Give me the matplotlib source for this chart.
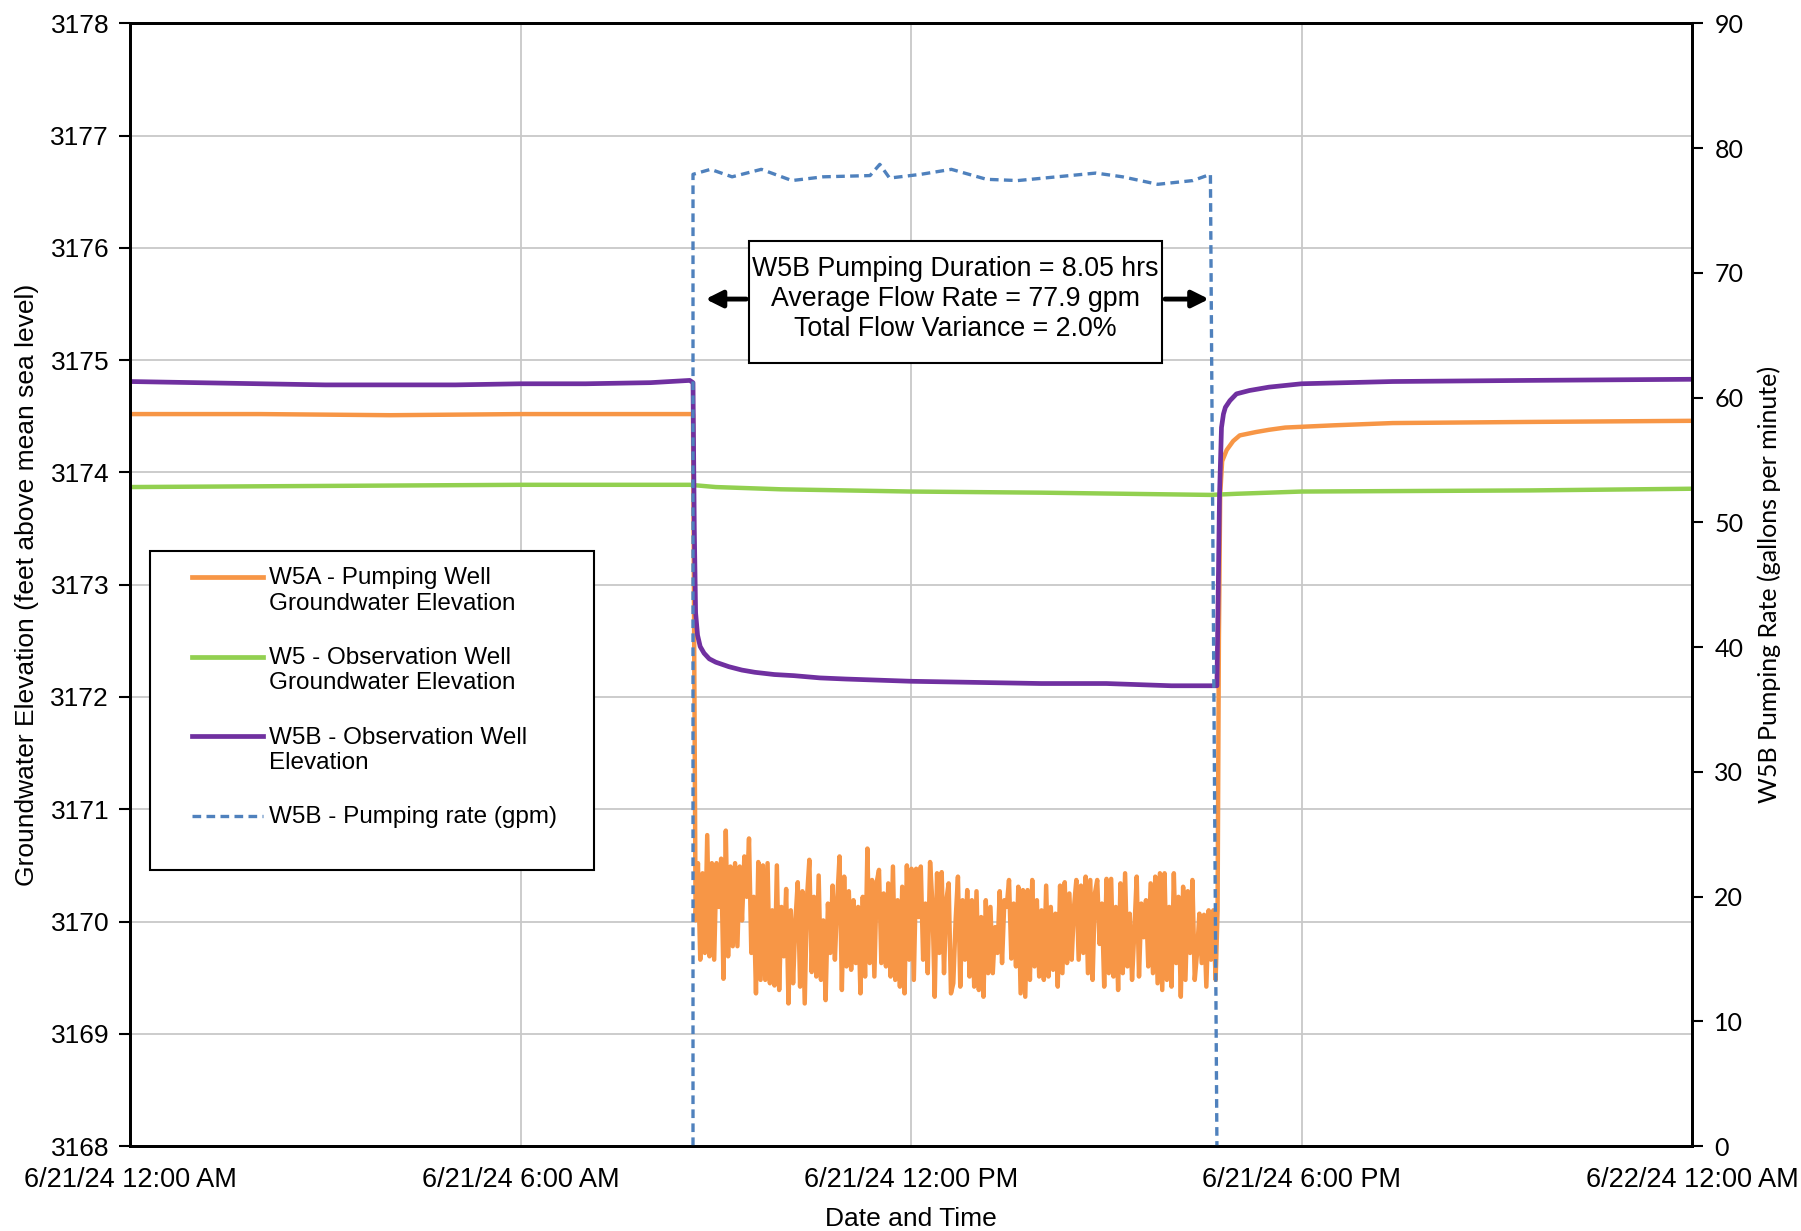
import numpy as np
import matplotlib.pyplot as plt
from matplotlib.lines import Line2D
from matplotlib.patches import Rectangle

# time in hours after 6/21/24 12:00 AM
x_ticks = [0, 6, 12, 18, 24]
x_tick_labels = ['6/21/24 12:00 AM', '6/21/24 6:00 AM', '6/21/24 12:00 PM',
                 '6/21/24 6:00 PM', '6/22/24 12:00 AM']

# W5B observation well elevation
w5b_t = [0, 1, 2, 3, 4, 5, 6, 7, 8, 8.6, 8.65, 8.67, 8.69, 8.72, 8.76, 8.82, 8.9, 9.0,
         9.2, 9.4, 9.6, 9.9, 10.2, 10.6, 11, 12, 13, 14, 15, 16, 16.7, 16.74, 16.77,
         16.80, 16.83, 16.9, 17.0, 17.2, 17.5, 18, 19.4, 21.5, 24]
w5b_elev = [3174.81, 3174.80, 3174.79, 3174.78, 3174.78, 3174.78, 3174.79, 3174.79,
            3174.80, 3174.82, 3174.80, 3173.5, 3172.75, 3172.55, 3172.45, 3172.39,
            3172.34, 3172.31, 3172.27, 3172.24, 3172.22, 3172.20, 3172.19, 3172.17,
            3172.16, 3172.14, 3172.13, 3172.12, 3172.12, 3172.10, 3172.10, 3173.8,
            3174.40, 3174.52, 3174.58, 3174.64, 3174.70, 3174.73, 3174.76, 3174.79,
            3174.81, 3174.82, 3174.83]

# W5 observation well elevation
w5_t = [0, 3, 6, 8.6, 9, 10, 12, 14, 16.6, 17, 18, 21.5, 24]
w5_elev = [3173.87, 3173.88, 3173.89, 3173.89, 3173.87, 3173.85, 3173.83, 3173.82,
           3173.80, 3173.81, 3173.83, 3173.84, 3173.855]

# W5A pumping well elevation (before / during / after pumping)
w5a_pre_t = [0, 2, 4, 6, 8, 8.65]
w5a_pre = [3174.52, 3174.52, 3174.51, 3174.52, 3174.52, 3174.52]
w5a_pumping = [
    3170.01, 3170.52, 3169.66, 3170.43, 3169.72, 3170.77, 3169.69, 3170.52, 3169.66, 3170.52,
    3170.13, 3170.56, 3169.49, 3170.81, 3169.69, 3170.49, 3169.78, 3170.52, 3169.78, 3170.49,
    3170.01, 3170.58, 3170.22, 3170.74, 3169.72, 3170.22, 3169.36, 3170.53, 3169.48, 3170.50,
    3169.48, 3170.52, 3169.45, 3170.10, 3169.43, 3170.50, 3169.39, 3170.13, 3169.69, 3170.29,
    3169.27, 3170.10, 3169.45, 3170.01, 3170.35, 3169.42, 3170.27, 3169.27, 3170.22, 3170.55,
    3169.55, 3170.22, 3169.51, 3170.41, 3169.48, 3170.01, 3169.30, 3170.16, 3169.72, 3170.32,
    3169.66, 3170.19, 3170.58, 3169.39, 3170.40, 3169.60, 3170.27, 3169.57, 3170.19, 3169.63,
    3170.13, 3169.36, 3170.22, 3169.51, 3170.65, 3169.63, 3170.37, 3169.51, 3170.35, 3170.46,
    3169.63, 3170.25, 3169.60, 3170.34, 3169.51, 3170.49, 3169.48, 3170.19, 3169.42, 3170.31,
    3169.36, 3170.50, 3169.66, 3170.47, 3169.48, 3170.47, 3170.04, 3170.49, 3169.66, 3170.16,
    3169.54, 3170.53, 3170.16, 3169.33, 3170.43, 3169.72, 3170.44, 3169.54, 3170.19, 3170.34,
    3169.36,
    3169.45, 3170.01, 3170.40, 3169.42, 3170.19, 3169.66, 3170.28, 3169.51, 3170.19, 3169.42,
    3170.27, 3169.39, 3170.04, 3169.33, 3170.19, 3169.54, 3170.13, 3169.54, 3169.95, 3169.72,
    3170.27, 3169.63, 3170.19, 3170.13, 3170.37, 3169.67, 3170.16, 3169.60, 3170.31, 3169.36,
    3170.28, 3169.33, 3170.28, 3169.48, 3170.37, 3169.60, 3170.19, 3169.51, 3170.10, 3169.48,
    3170.32, 3169.51, 3170.13, 3169.57, 3170.07, 3169.42, 3170.32, 3169.54, 3170.35, 3169.63,
    3170.25, 3169.66, 3170.13, 3170.37, 3169.66, 3170.32, 3169.72, 3170.40, 3169.54, 3170.37,
    3169.48, 3170.25, 3170.37, 3169.80, 3170.16, 3169.42, 3170.38, 3169.54, 3170.38, 3169.51,
    3170.13, 3169.39, 3170.34, 3169.54, 3170.43, 3169.60, 3170.07, 3169.48, 3169.92, 3170.40,
    3169.51, 3170.16, 3169.86, 3170.19, 3169.60, 3170.34, 3169.54, 3170.40, 3169.45, 3170.43,
    3169.39, 3170.43, 3169.48, 3170.13, 3169.42, 3170.43, 3169.63, 3170.22, 3169.33, 3170.31,
    3169.48, 3170.27, 3169.72, 3170.37, 3169.48, 3169.72, 3170.07, 3169.63, 3170.06, 3169.42,
    3170.10, 3169.66, 3170.10, 3169.48]
w5a_post_t = [16.71, 16.73, 16.75, 16.78, 16.85, 16.95, 17.05, 17.3, 17.5, 17.75, 18.5,
              19.4, 21.5, 24]
w5a_post = [3170.1, 3172.5, 3173.8, 3174.1, 3174.2, 3174.28, 3174.33, 3174.36, 3174.38,
            3174.40, 3174.42, 3174.44, 3174.45, 3174.46]

# W5B pumping rate (gpm)
rate_t = [8.65, 8.65, 8.92, 9.25, 9.70, 10.17, 10.65, 11.37, 11.52, 11.67, 12.15, 12.62,
          13.16, 13.64, 14.24, 14.84, 15.25, 15.79, 16.33, 16.60, 16.70]
rate_gpm = [0, 77.9, 78.3, 77.7, 78.3, 77.4, 77.7, 77.8, 78.7, 77.6, 77.9, 78.3, 77.5,
            77.4, 77.7, 78.0, 77.7, 77.1, 77.4, 77.9, 0]

legend_labels = ['W5A - Pumping Well\nGroundwater Elevation',
                 'W5 - Observation Well\nGroundwater Elevation',
                 'W5B - Observation Well\nElevation',
                 'W5B - Pumping rate (gpm)']
note = 'W5B Pumping Duration = 8.05 hrs\nAverage Flow Rate = 77.9 gpm\nTotal Flow Variance = 2.0%'

plt.rcParams['font.family'] = ['Liberation Sans', 'DejaVu Sans']

fig = plt.figure(figsize=(18.01, 12.31), dpi=100)
ax = fig.add_axes([0.0722, 0.069, 0.8673, 0.912])
ax2 = ax.twinx()

w5a_t = list(w5a_pre_t) + list(np.linspace(8.69, 16.68, len(w5a_pumping))) + list(w5a_post_t)
w5a_elev = list(w5a_pre) + list(w5a_pumping) + list(w5a_post)

colors = ['#F79646', '#92D050', '#7030A0', '#4F81BD']
ax.plot(w5a_t, w5a_elev, color=colors[0], lw=3.2, solid_joinstyle='round')
ax.plot(w5_t, w5_elev, color=colors[1], lw=3.2)
ax.plot(w5b_t, w5b_elev, color=colors[2], lw=3.4, solid_joinstyle='round')
dash = (0, (2.6, 1.6))
ax2.plot(rate_t, rate_gpm, color=colors[3], lw=2.4, ls=dash)

ax.set_xlim(0, 24)
ax.set_ylim(3168, 3178)
ax.set_yticks(np.arange(3168, 3179, 1))
ax.set_xticks(x_ticks)
ax.set_xticklabels(x_tick_labels, fontsize=19.5)
ax.tick_params(axis='x', length=0, pad=15)
ax.tick_params(axis='y', labelsize=19, length=8, width=1.5, direction='out', pad=7)
ax.grid(True, color='#C8C8C8', lw=1.3)
ax.set_axisbelow(True)
ax.set_xlabel('Date and Time', fontsize=19, labelpad=10)
ax.set_ylabel('Groundwater Elevation (feet above mean sea level)', fontsize=19, labelpad=8)

ax2.set_ylim(0, 90)
ax2.set_yticks(np.arange(0, 91, 10))
ax2.tick_params(axis='y', labelsize=18, length=8, width=1.5, direction='out', pad=8)
for lab in ax2.get_yticklabels():
    lab.set_family('Lato')
ax2.set_ylabel('W5B Pumping Rate (gallons per minute)', fontsize=18, family='Lato', labelpad=10)

for a in (ax, ax2):
    for s in a.spines.values():
        s.set_linewidth(2)
        s.set_color('black')

# annotation box with arrows
ax2.add_patch(Rectangle((9.51, 62.76), 15.86 - 9.51, 72.53 - 62.76, fc='white',
                        ec='black', lw=1.5, zorder=4))
ax2.text(12.68, 67.9, note, ha='center', va='center', fontsize=19.3,
         linespacing=1.2, zorder=5)
ax2.annotate('', xy=(8.80, 67.9), xytext=(9.51, 67.9),
             arrowprops=dict(arrowstyle='-|>', color='black', lw=3.5, mutation_scale=25))
ax2.annotate('', xy=(16.62, 67.9), xytext=(15.86, 67.9),
             arrowprops=dict(arrowstyle='-|>', color='black', lw=3.5, mutation_scale=25))

# legend drawn by hand so the line sits next to the first text line
tr = ax2.transAxes
ax2.add_patch(Rectangle((0.013, 0.246), 0.284, 0.284, transform=tr, fc='white',
                        ec='black', lw=1.5, zorder=6))
handle_y = [0.507, 0.436, 0.365, 0.294]
styles = ['-', '-', '-', dash]
widths = [3.4, 3.4, 3.4, 2.4]
for y, lab, c, st, w in zip(handle_y, legend_labels, colors, styles, widths):
    ax2.add_line(Line2D([0.0396, 0.0849], [y, y], transform=tr, color=c, ls=st, lw=w,
                        zorder=7))
    ax2.text(0.0889, y + 0.0085, lab, transform=tr, ha='left', va='top', fontsize=17.5,
             linespacing=1.2, zorder=7)

fig.savefig('out.png', dpi=100)
